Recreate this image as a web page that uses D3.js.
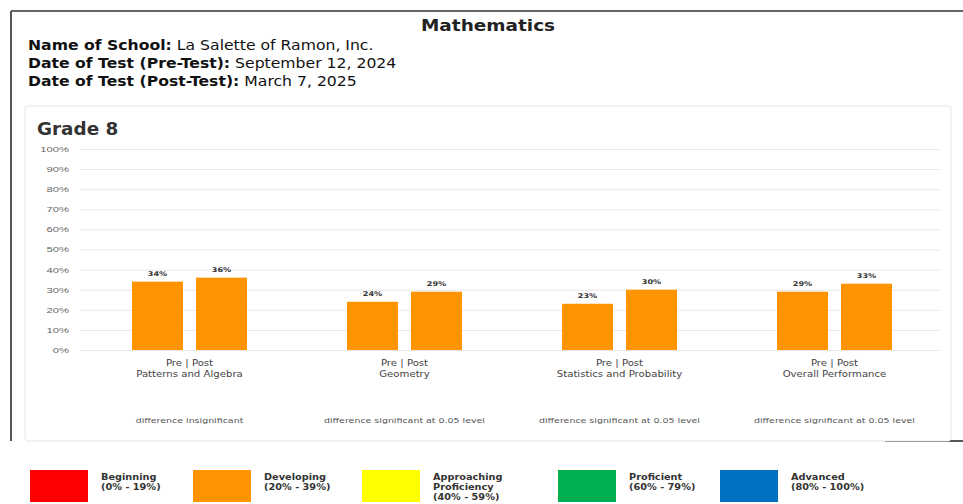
<!DOCTYPE html>
<html>
<head>
<meta charset="utf-8">
<script src="https://cdn.jsdelivr.net/npm/d3@7"></script>
<style>
  body { margin: 0; background: #fff; }
  svg { display: block; font-family: "DejaVu Sans", sans-serif; }
</style>
</head>
<body>
<div id="main"></div>
<script>
const categories = ["Patterns and Algebra", "Geometry", "Statistics and Probability", "Overall Performance"];
const preValues = [34, 24, 23, 29];
const postValues = [36, 29, 30, 33];
const notes = ["difference insignificant", "difference significant at 0.05 level", "difference significant at 0.05 level", "difference significant at 0.05 level"];
const yTicks = [0, 10, 20, 30, 40, 50, 60, 70, 80, 90, 100];
const legendLabels = [["Beginning", "(0% - 19%)"], ["Developing", "(20% - 39%)"], ["Approaching", "Proficiency", "(40% - 59%)"], ["Proficient", "(60% - 79%)"], ["Advanced", "(80% - 100%)"]];
const legendColors = ["#ff0000", "#ff9400", "#ffff00", "#00b050", "#0070c0"];

const width = 963, height = 504;

// the scanned picture is a bit stretched sideways, so text gets a horizontal scale
const place = (x, y, sx) => `translate(${x},${y}) scale(${sx},1)`;

const svg = d3.select("#main").append("svg")
    .attr("width", width)
    .attr("height", height);

// page frame
svg.append("line").attr("x1", 11).attr("x2", width).attr("y1", 11).attr("y2", 11)
   .attr("stroke", "#666").attr("stroke-width", 2);
svg.append("line").attr("x1", 11).attr("x2", 11).attr("y1", 11).attr("y2", 441)
   .attr("stroke", "#555").attr("stroke-width", 2);
svg.append("line").attr("x1", 885).attr("x2", width).attr("y1", 441).attr("y2", 441)
   .attr("stroke", "#555").attr("stroke-width", 2);

// header
svg.append("text").attr("transform", place(421, 31, 1.12))
   .attr("font-size", 16.5).attr("font-weight", "bold").attr("fill", "#222").text("Mathematics");

const header = [["Name of School:", "La Salette of Ramon, Inc."],
                ["Date of Test (Pre-Test):", "September 12, 2024"],
                ["Date of Test (Post-Test):", "March 7, 2025"]];
header.forEach((h, i) => {
  const t = svg.append("text").attr("transform", place(28, 50 + i * 18, 1.16))
     .attr("font-size", 13.5).attr("fill", "#111");
  t.append("tspan").attr("font-weight", "bold").text(h[0]);
  t.append("tspan").text("  " + h[1]);
});

// panel
svg.append("rect").attr("x", 25).attr("y", 106).attr("width", 926).attr("height", 335)
   .attr("rx", 3).attr("fill", "#fff").attr("stroke", "#e6e6e6");

svg.append("text").attr("transform", place(37, 135, 1.08)).attr("font-size", 17)
   .attr("font-weight", "bold").attr("fill", "#333").text("Grade 8");

const x = d3.scaleBand().domain(categories).range([82, 942]);
const y = d3.scaleLinear().domain([0, 100]).range([350, 149]);

const yAxis = svg.append("g").attr("transform", "translate(80,0)")
    .call(d3.axisLeft(y).tickValues(yTicks).tickFormat(d => d + "%").tickSize(-860).tickPadding(12));
yAxis.select(".domain").remove();
yAxis.selectAll(".tick line").attr("stroke", "#e8e8e8");
yAxis.selectAll(".tick text")
    .attr("x", 0).attr("font-size", 7.5).attr("fill", "#666")
    .attr("transform", place(-11, 0, 1.5));

const barW = 51, gap = 13;
const groups = svg.append("g").selectAll("g").data(categories).enter().append("g")
    .attr("transform", d => `translate(${x(d) + x.bandwidth() / 2},0)`);

[preValues, postValues].forEach((vals, k) => {
  const bx = k === 0 ? -gap / 2 - barW : gap / 2;
  groups.append("rect")
      .attr("x", bx)
      .attr("y", (d, i) => y(vals[i]))
      .attr("width", barW)
      .attr("height", (d, i) => y(0) - y(vals[i]))
      .attr("fill", "#ff9400");
  groups.append("text")
      .attr("transform", (d, i) => place(bx + barW / 2, y(vals[i]) - 6, 1.25))
      .attr("text-anchor", "middle").attr("font-size", 6.5).attr("font-weight", "bold")
      .attr("fill", "#333")
      .text((d, i) => vals[i] + "%");
});

groups.append("text").attr("transform", place(0, 366, 1.27)).attr("text-anchor", "middle")
    .attr("font-size", 8).attr("fill", "#444").text("Pre | Post");
groups.append("text").attr("transform", place(0, 377, 1.27)).attr("text-anchor", "middle")
    .attr("font-size", 8).attr("fill", "#444").text(d => d);
groups.append("text").attr("transform", place(0, 423, 1.26)).attr("text-anchor", "middle")
    .attr("font-size", 7.5).attr("fill", "#555").text((d, i) => notes[i]);

// legend
const legendX = [30, 193, 362, 558, 720];
const legend = svg.append("g").selectAll("g").data(legendLabels).enter().append("g")
    .attr("transform", (d, i) => `translate(${legendX[i]},470)`);
legend.append("rect").attr("width", 58).attr("height", 32)
    .attr("fill", (d, i) => legendColors[i]);
legend.each(function(d) {
  const t = d3.select(this).append("text").attr("transform", place(71, 10, 1.22))
      .attr("font-size", 8).attr("font-weight", "bold").attr("fill", "#333");
  d.forEach((line, j) => t.append("tspan").attr("x", 0).attr("dy", j === 0 ? 0 : 10).text(line));
});
</script>
</body>
</html>
